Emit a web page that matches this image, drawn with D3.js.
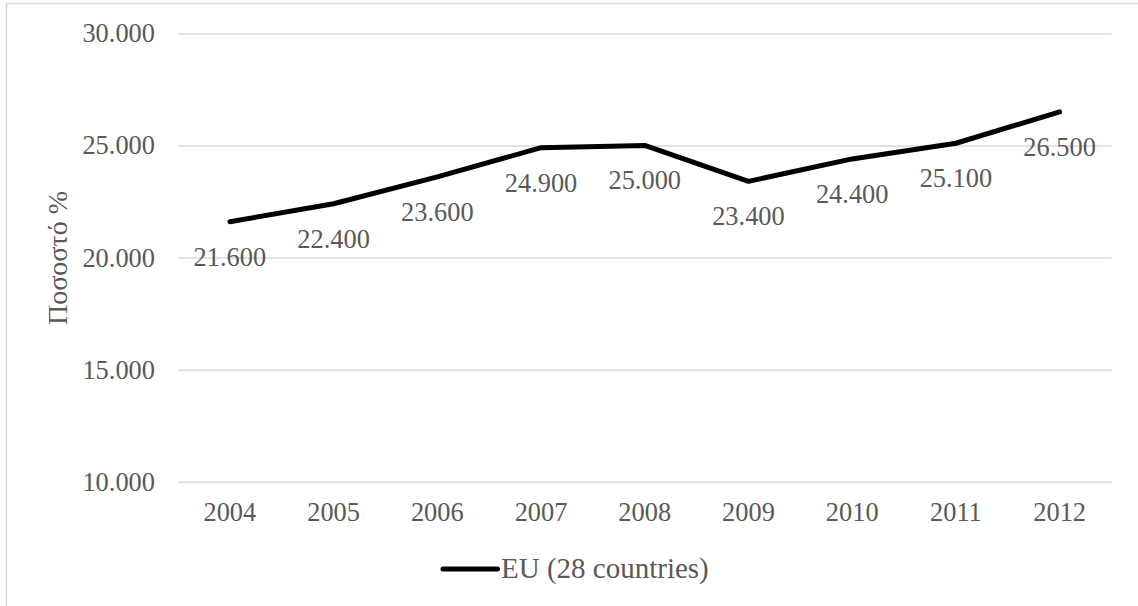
<!DOCTYPE html>
<html>
<head>
<meta charset="utf-8">
<script src="https://cdn.jsdelivr.net/npm/d3@7"></script>
<style>
  html, body { margin: 0; padding: 0; background: #fff; }
</style>
</head>
<body>
<svg id="chart" width="1138" height="606"></svg>
<script>
// Share of population, EU (28 countries), 2004–2012
const years = ["2004", "2005", "2006", "2007", "2008", "2009", "2010", "2011", "2012"];
const euValues = [21.6, 22.4, 23.6, 24.9, 25.0, 23.4, 24.4, 25.1, 26.5];
const yTicks = [10, 15, 20, 25, 30];
const seriesName = "EU (28 countries)";
const yTitle = "Ποσοστό %";

const W = 1138, H = 606;
const plot = { left: 178, right: 1111.5, top: 33.4, bottom: 481.7 };
const textColor = "#595959";
const gridColor = "#d9d9d9";
const fontSize = 26.4;
const serif = "'Liberation Serif', 'Times New Roman', serif";

const svg = d3.select("#chart");

// outer chart frame
svg.append("rect")
  .attr("x", 6.5).attr("y", 3.5)
  .attr("width", W + 100).attr("height", H + 100)
  .attr("fill", "none").attr("stroke", gridColor).attr("stroke-width", 1.5);

const x = d3.scaleBand().domain(years).range([plot.left, plot.right]);
const y = d3.scaleLinear().domain([10, 30]).range([plot.bottom, plot.top]);
const fmt = d3.format(".3f");

// horizontal gridlines + y tick labels
const yAxis = d3.axisLeft(y).tickValues(yTicks).tickFormat(fmt)
  .tickSize(-(plot.right - plot.left)).tickPadding(23);
const gy = svg.append("g").attr("transform", `translate(${plot.left},0)`).call(yAxis);
gy.select(".domain").remove();
gy.selectAll(".tick line").attr("stroke", gridColor).attr("stroke-width", 1.5);
gy.selectAll(".tick text")
  .attr("fill", textColor)
  .style("font-size", fontSize + "px").style("font-family", serif)
  .attr("dy", "0.32em");

// x category labels
const xAxis = d3.axisBottom(x).tickSize(0).tickPadding(0);
const gx = svg.append("g").attr("transform", `translate(0,${plot.bottom})`).call(xAxis);
gx.select(".domain").remove();
gx.selectAll(".tick text")
  .attr("fill", textColor)
  .style("font-size", fontSize + "px").style("font-family", serif)
  .attr("y", 0).attr("dy", 39.8);

// y axis title
svg.append("text")
  .attr("transform", `translate(67,258) rotate(-90)`)
  .attr("text-anchor", "middle")
  .attr("fill", textColor)
  .style("font-size", "28px").style("font-family", serif)
  .text(yTitle);

// series line
const cx = d => x(d) + x.bandwidth() / 2;
const line = d3.line().x((d, i) => cx(years[i])).y(d => y(d));
svg.append("path")
  .datum(euValues)
  .attr("d", line)
  .attr("fill", "none").attr("stroke", "#000").attr("stroke-width", 5)
  .attr("stroke-linejoin", "round").attr("stroke-linecap", "round");

// value labels below each point
svg.append("g").selectAll("text")
  .data(euValues)
  .join("text")
  .attr("x", (d, i) => cx(years[i]))
  .attr("y", d => y(d) + 44)
  .attr("text-anchor", "middle")
  .attr("fill", textColor)
  .style("font-size", fontSize + "px").style("font-family", serif)
  .text(d => fmt(d));

// legend
const lg = svg.append("g");
lg.append("line")
  .attr("x1", 443).attr("x2", 497.5).attr("y1", 569).attr("y2", 569)
  .attr("stroke", "#000").attr("stroke-width", 5).attr("stroke-linecap", "round");
lg.append("text")
  .attr("x", 501).attr("y", 577.7)
  .attr("fill", textColor)
  .style("font-size", "29px").style("font-family", serif)
  .text(seriesName);
</script>
</body>
</html>
